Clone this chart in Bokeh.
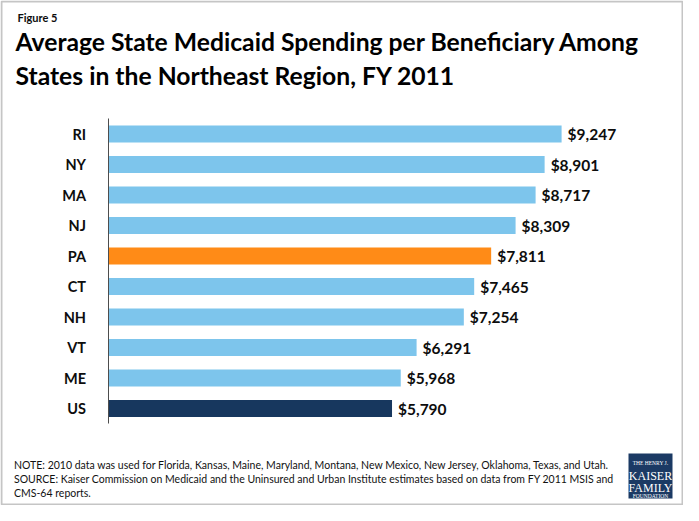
from bokeh.plotting import figure
from bokeh.models import ColumnDataSource, Range1d, Label, BoxAnnotation, FixedTicker
from bokeh.core.properties import value
from bokeh.embed import file_html
from bokeh.resources import INLINE

# ---- data ----
states = ["RI", "NY", "MA", "NJ", "PA", "CT", "NH", "VT", "ME", "US"]
spending = [9247, 8901, 8717, 8309, 7811, 7465, 7254, 6291, 5968, 5790]
highlight_colors = {"PA": "#FF8B17", "US": "#17375E"}
base_color = "#7DC5EC"

fig_label = "Figure 5"
title_lines = [
    "Average State Medicaid Spending per Beneficiary Among",
    "States in the Northeast Region, FY 2011",
]
note_lines = [
    "NOTE: 2010 data was used for Florida, Kansas, Maine, Maryland, Montana, New Mexico, New Jersey, Oklahoma, Texas, and Utah.",
    "SOURCE: Kaiser Commission on Medicaid and the Uninsured and Urban Institute estimates based on data from FY 2011 MSIS and",
    "CMS-64 reports.",
]
logo_lines = ["THE HENRY J.", "KAISER", "FAMILY", "FOUNDATION"]

# ---- layout constants (pixels) ----
W, H = 683, 505
ZERO_X = 107.5          # canvas x of the value axis zero
PX_PER_UNIT = 453.6 / 9247.0
FIRST_ROW_Y = 133.5     # canvas y of the first bar centre
ROW_STEP = 30.5
FONT = "Lato"


def sy(cy):
    return H - cy


pos = list(range(len(states)))
colors = [highlight_colors.get(s, base_color) for s in states]
labels = ["${:,}".format(v) for v in spending]
src = ColumnDataSource(dict(pos=pos, state=states, value=spending, color=colors, label=labels))

x_start = -ZERO_X / PX_PER_UNIT
x_end = (W - ZERO_X) / PX_PER_UNIT
y_top = (0 - FIRST_ROW_Y) / ROW_STEP
y_bottom = (H - FIRST_ROW_Y) / ROW_STEP

p = figure(
    width=W, height=H,
    x_range=Range1d(x_start, x_end),
    y_range=Range1d(y_bottom, y_top),
    x_axis_location=None,
    toolbar_location=None,
    output_backend="svg",
    min_border=0,
)
p.min_border_left = 0
p.min_border_right = 0
p.min_border_top = 0
p.min_border_bottom = 0
p.outline_line_color = None
p.xgrid.visible = False
p.ygrid.visible = False
p.background_fill_color = "white"
p.border_fill_color = "white"

p.hbar(y="pos", right="value", left=0, height=0.565, color="color", line_color=None, source=src)
p.text(x="value", y="pos", text="label", source=src, x_offset=6,
       text_baseline="middle", text_align="left",
       text_font=value(FONT), text_font_style="bold", text_font_size="15.5px",
       text_color="#0d0d0d")

ax = p.yaxis[0]
ax.fixed_location = 0
ax.bounds = (-0.5, len(states) - 0.5)
ax.ticker = FixedTicker(ticks=pos)
ax.major_label_overrides = {i: s for i, s in zip(pos, states)}
ax.major_tick_line_color = None
ax.minor_tick_line_color = None
ax.axis_line_color = "#4d4d4d"
ax.axis_line_width = 1
ax.major_label_standoff = 16
ax.major_label_text_font = FONT
ax.major_label_text_font_style = "bold"
ax.major_label_text_font_size = "14.5px"
ax.major_label_text_color = "#0d0d0d"

# titles
p.add_layout(Label(x=17, y=sy(17), x_units="screen", y_units="screen", text=fig_label,
                   text_font=FONT, text_font_style="bold", text_font_size="11px",
                   text_color="#0d0d0d", text_baseline="alphabetic"))
for t, cy in zip(title_lines, [41, 75]):
    p.add_layout(Label(x=15, y=sy(cy), x_units="screen", y_units="screen", text=t,
                       text_font=FONT, text_font_style="bold", text_font_size="24.7px",
                       text_color="#000000", text_baseline="alphabetic"))

# notes
for t, cy in zip(note_lines, [464, 478, 492]):
    p.add_layout(Label(x=13.5, y=sy(cy), x_units="screen", y_units="screen", text=t,
                       text_font=FONT, text_font_size="10.5px",
                       text_color="#111111", text_baseline="alphabetic"))

# logo
LOGO_L, LOGO_R, LOGO_T, LOGO_B = 628, 672, 453, 498
p.add_layout(BoxAnnotation(left=LOGO_L, right=LOGO_R, top=sy(LOGO_T), bottom=sy(LOGO_B),
                           left_units="screen", right_units="screen",
                           top_units="screen", bottom_units="screen",
                           fill_color="#1B3A64", fill_alpha=1, line_color=None))
for t, dy, fs in zip(logo_lines, [9, 22, 34, 42], ["5.5px", "12px", "12px", "5.5px"]):
    p.add_layout(Label(x=(LOGO_L + LOGO_R) / 2, y=sy(LOGO_T + dy), x_units="screen", y_units="screen",
                       text=t, text_font="Liberation Serif", text_font_size=fs,
                       text_color="white", text_align="center", text_baseline="alphabetic"))

# outer border
p.add_layout(BoxAnnotation(left=1, right=W - 1, top=sy(1), bottom=sy(H - 1),
                           left_units="screen", right_units="screen",
                           top_units="screen", bottom_units="screen",
                           fill_alpha=0, line_color="#404040", line_width=2))

open("out.html", "w").write(file_html(p, INLINE))
